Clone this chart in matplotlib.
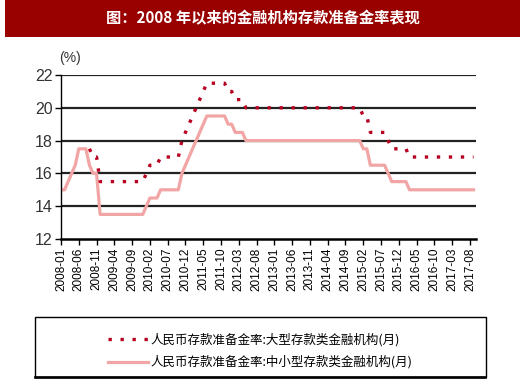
import matplotlib
matplotlib.use('Agg')
import matplotlib.pyplot as plt
from matplotlib.patches import Rectangle
import numpy as np

plt.rcParams['font.family'] = ['Noto Sans CJK SC', 'DejaVu Sans']

# 数据：2008-01 起按月
months = ['%d-%02d' % (2008 + i // 12, i % 12 + 1) for i in range(117)]
tick_labels = months[::5][:24]

# 大型存款类金融机构 (2008-09 起)
large = ([np.nan] * 8
         + [17.5, 17.0, 17.0]
         + [15.5] * 13
         + [16.0, 16.5, 16.5, 16.5]
         + [17.0] * 6
         + [18.0, 18.5, 19.0, 19.5, 20.0, 20.5, 21.0]
         + [21.5] * 6
         + [21.0, 21.0, 20.5, 20.5, 20.5]
         + [20.0] * 33
         + [19.5, 19.5]
         + [18.5] * 5
         + [18.0]
         + [17.5] * 5
         + [17.0] * 19)

# 中小型存款类金融机构
small = ([15.0, 15.0, 15.5, 16.0, 16.5, 17.5, 17.5, 17.5, 16.5, 16.0, 16.0]
         + [13.5] * 13
         + [14.0, 14.5, 14.5, 14.5]
         + [15.0] * 6
         + [16.0, 16.5, 17.0, 17.5, 18.0, 18.5, 19.0]
         + [19.5] * 6
         + [19.0, 19.0, 18.5, 18.5, 18.5]
         + [18.0] * 33
         + [17.5, 17.5]
         + [16.5] * 5
         + [16.0]
         + [15.5] * 5
         + [15.0] * 19)

large_label = '人民币存款准备金率:大型存款类金融机构(月)'
small_label = '人民币存款准备金率:中小型存款类金融机构(月)'
title = '图：2008 年以来的金融机构存款准备金率表现'

x = np.arange(len(months))

fig = plt.figure(figsize=(5.2, 3.83), dpi=100)

# 标题栏
fig.patches.append(Rectangle((5 / 520, 1 - 37 / 383), 515 / 520, 37 / 383,
                             transform=fig.transFigure, facecolor='#990000',
                             edgecolor='none'))
fig.text(0.505, 1 - 18 / 383, title, color='white', fontsize=11,
         fontweight='bold', ha='center', va='center')

ax = fig.add_axes([61 / 520, 1 - 239 / 383, 415 / 520, 164 / 383])
for v in [14, 16, 18, 20, 22]:
    ax.axhline(v, color='#222222', lw=1.6, zorder=1)

ax.plot(x, small, color='#F2A5A5', lw=2.3, label=small_label, zorder=2)
ax.plot(x, large, color='#B80020', lw=2.4, dashes=(1, 2.6),
        label=large_label, zorder=3)

ax.set_xlim(0, 116.7)
ax.set_ylim(12, 22)
ax.set_yticks([12, 14, 16, 18, 20, 22])
ax.set_xticks(x[::5][:24])
ax.set_xticklabels(tick_labels, rotation=90, fontsize=8.5,
                   family=['Liberation Sans', 'DejaVu Sans'])
for lab in ax.get_yticklabels():
    lab.set_family(['Liberation Sans Narrow', 'Liberation Sans'])
    lab.set_fontsize(11.5)
    lab.set_color('#333333')
for s in ['top', 'right']:
    ax.spines[s].set_visible(False)
ax.spines['left'].set_linewidth(1.0)
ax.spines['bottom'].set_linewidth(1.8)
ax.tick_params(axis='both', direction='out', length=4, width=1.0, pad=2)
ax.text(-0.005, 1.06, '(%)', transform=ax.transAxes, ha='left', va='bottom',
        fontsize=10, color='#333333',
        family=['Liberation Sans Narrow', 'Liberation Sans'])

# 图例框
fig.patches.append(Rectangle((35 / 520, 1 - 377 / 383), 451 / 520, 60 / 383,
                             transform=fig.transFigure, facecolor='white',
                             edgecolor='black', lw=1.0))
fig.patches.append(Rectangle((35 / 520, 1 - 378 / 383), 451 / 520, 1 / 383,
                             transform=fig.transFigure, facecolor='black',
                             edgecolor='black', lw=1.2))
h, l = ax.get_legend_handles_labels()
fig.legend(h[::-1], l[::-1], loc='center', bbox_to_anchor=(0.5, 1 - 351 / 383),
           frameon=False, fontsize=9, handlelength=3.2, handletextpad=0.2,
           labelspacing=0.7)

fig.savefig('out.png', dpi=100)
